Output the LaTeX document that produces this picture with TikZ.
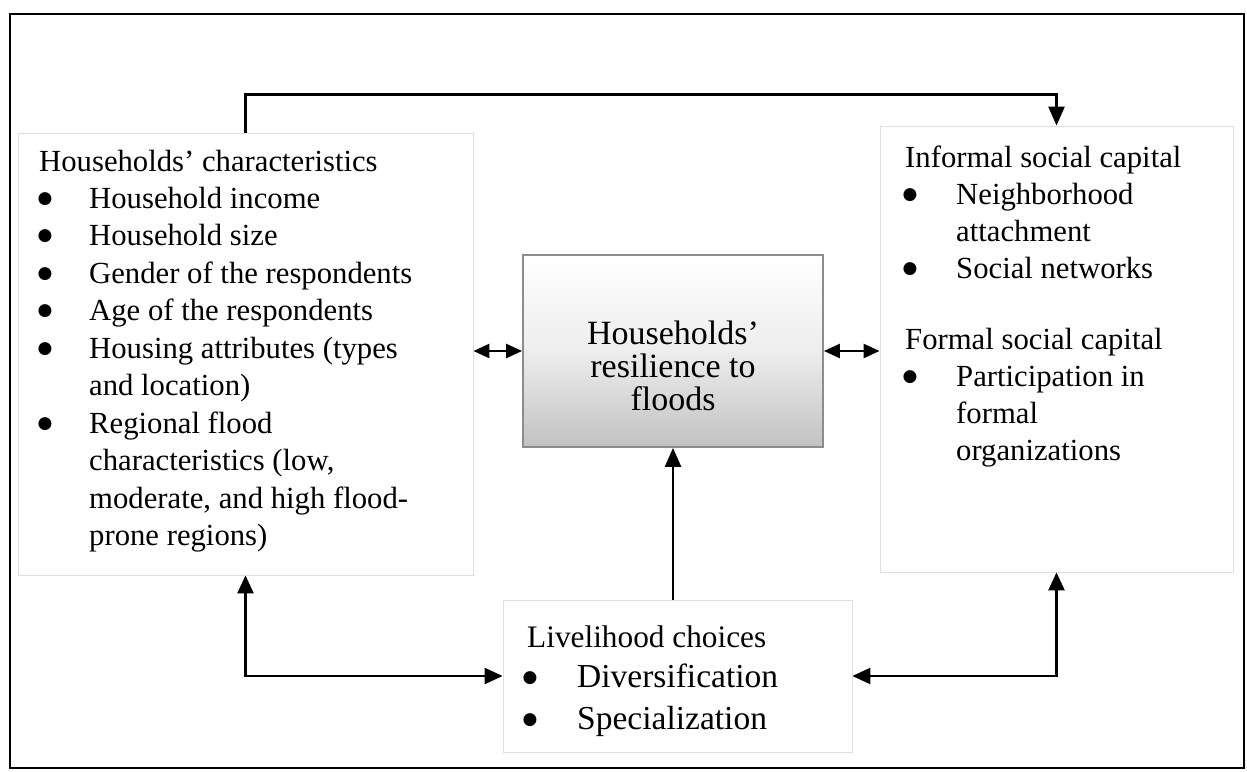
\documentclass[tikz,border=0pt]{standalone}
\usepackage{fontspec}
\setmainfont{Liberation Serif}
\newfontfamily\symfont{DejaVu Sans}
\usetikzlibrary{arrows.meta}
\newcommand\fsz[2]{\fontsize{#1}{#2}\selectfont}
\tikzset{
  box/.style={draw=gray!25, line width=0.8pt, rectangle, inner sep=0pt},
  core/.style={draw=gray!90, line width=1.8pt, rectangle, inner sep=0pt,
    top color=white, bottom color=black!24, middle color=black!7},
  txt/.style={anchor=base west, inner sep=0pt, font=\fsz{30.7}{37}},
  btxt/.style={anchor=base west, inner sep=0pt, font=\fsz{33.5}{40}},
  ctxt/.style={anchor=base, inner sep=0pt, font=\fsz{34}{34}},
  bul/.style={anchor=base, inner sep=0pt, font=\symfont\fsz{17}{17}},
  arr/.style={-{Triangle[length=19pt,width=16pt]}, line width=2.5pt},
  dbl/.style={{Triangle[length=18pt,width=16pt]}-{Triangle[length=18pt,width=16pt]}, line width=2.5pt},
  sdbl/.style={{Triangle[length=16pt,width=14pt]}-{Triangle[length=16pt,width=14pt]}, line width=2.5pt},
}
\begin{document}
\begin{tikzpicture}[x=1pt,y=-1pt]
\useasboundingbox (0,0) rectangle (1247,771);
\fill[white] (0,0) rectangle (1247,771);
\draw[line width=2pt] (10,14) rectangle (1244,768);

% boxes
\node[box, minimum width=455pt, minimum height=442pt] (left) at (245.5,354) {};
\node[box, minimum width=353pt, minimum height=446pt] (right) at (1056.5,349) {};
\node[core, minimum width=300pt, minimum height=192pt] (center) at (673,351) {};
\node[box, minimum width=349pt, minimum height=152pt] (bottom) at (677.5,676) {};

% left text
\node[txt] (l0) at (39,171) {Households’ characteristics};
\foreach \y/\t [count=\i] in {208/Household income, 245.5/Household size, 283/Gender of the respondents, 320.5/Age of the respondents, 358/{Housing attributes (types}, 433/Regional flood}
  {\node[bul] (lb\i) at (45,\y-5) {●}; \node[txt] (li\i) at (89,\y) {\t};}
\node[txt] (l7) at (89,395.5) {and location)};
\node[txt] (l8) at (89,470.5) {characteristics (low,};
\node[txt] (l9) at (89,508) {moderate, and high flood-};
\node[txt] (l10) at (89,545.5) {prone regions)};

% right text
\node[txt] (r0) at (905,167) {Informal social capital};
\node[bul] (rb1) at (910,199) {●};
\node[txt] (r1) at (956,204) {Neighborhood};
\node[txt] (r2) at (956,241) {attachment};
\node[bul] (rb2) at (910,273) {●};
\node[txt] (r3) at (956,278) {Social networks};
\node[txt] (r4) at (905,349) {Formal social capital};
\node[bul] (rb3) at (910,381) {●};
\node[txt] (r5) at (956,386) {Participation in};
\node[txt] (r6) at (956,423) {formal};
\node[txt] (r7) at (956,460) {organizations};

% center text
\node[ctxt] (c1) at (673,344) {Households’};
\node[ctxt] (c2) at (673,377) {resilience to};
\node[ctxt] (c3) at (673,410) {floods};

% bottom text
\node[txt, font=\fsz{31.3}{37}] (b0) at (527,647) {Livelihood choices};
\node[bul] (bb1) at (530,682) {●};
\node[btxt] (b1) at (577,687) {Diversification};
\node[bul] (bb2) at (530,724) {●};
\node[btxt] (b2) at (577,729) {Specialization};

% connectors
\draw[arr] (left.north) -- ++(0,-38) -| (right.north);
\draw[sdbl] (center.west -| left.east) -- (center.west);
\draw[sdbl] (center.east) -- (center.east -| right.west);
\draw[dbl] (left.south) |- (bottom.west);
\draw[dbl] (right.south) |- (bottom.east);
\draw[arr] (bottom.north -| center.south) -- (center.south);
\end{tikzpicture}
\end{document}
